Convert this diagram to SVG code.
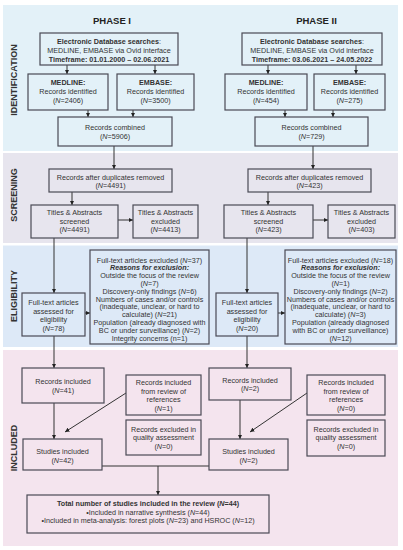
<svg xmlns="http://www.w3.org/2000/svg" width="403" height="550" viewBox="0 0 403 550">
<style>
.box{fill:none;stroke:#4a4a55;stroke-width:1.2}
.t{font-family:"Liberation Sans",Arial,sans-serif;font-size:7.2px;fill:#333;text-anchor:middle}
.b{font-weight:bold}
.i{font-style:italic}
.bi{font-weight:bold;font-style:italic}
.side{font-family:"Liberation Sans",Arial,sans-serif;font-size:9px;font-weight:bold;fill:#333;text-anchor:middle}
.ph{font-family:"Liberation Sans",Arial,sans-serif;font-size:9.5px;font-weight:bold;fill:#222;text-anchor:middle}
.c{fill:none;stroke:#333;stroke-width:1}
.ca{fill:none;stroke:#333;stroke-width:1;marker-end:url(#ah)}
</style>
<defs>
<marker id="ah" viewBox="0 0 6 6" refX="6" refY="3" markerWidth="4.5" markerHeight="4.5" orient="auto" markerUnits="userSpaceOnUse"><path d="M0,0 L6,3 L0,6 z" fill="#222"/></marker>
</defs>
<rect width="403" height="550" fill="#ffffff"/>
<g id="bands">
<rect x="3" y="5" width="395" height="146" fill="#e3f1f8"/>
<rect x="3" y="153" width="395" height="90" fill="#e7e5ee"/>
<rect x="3" y="245.5" width="395" height="101.5" fill="#dde9f7"/>
<rect x="3" y="350" width="395" height="196" fill="#f4e4ee"/>
</g>
<g id="labels">
<text class="side" transform="translate(14,80) rotate(-90)" dy="0.35em">IDENTIFICATION</text>
<text class="side" transform="translate(14,195) rotate(-90)" dy="0.35em">SCREENING</text>
<text class="side" transform="translate(14,296) rotate(-90)" dy="0.35em">ELIGIBILITY</text>
<text class="side" transform="translate(14,448) rotate(-90)" dy="0.35em">INCLUDED</text>
<text class="ph" x="112" y="24">PHASE I</text>
<text class="ph" x="316.5" y="24">PHASE II</text>
</g>
<g id="connectors">
<path class="ca" d="M67,65 V74"/>
<path class="ca" d="M155,65 V74"/>
<path class="ca" d="M88,110 V117"/>
<path class="ca" d="M133,110 V117"/>
<path class="ca" d="M268,65 V74"/>
<path class="ca" d="M356,65 V74"/>
<path class="ca" d="M285,110 V117"/>
<path class="ca" d="M333,110 V117"/>
<path class="ca" d="M114,146 V169"/>
<path class="ca" d="M72,192 V205"/>
<path class="ca" d="M118,220 H133"/>
<path class="ca" d="M54,238 V293"/>
<path class="ca" d="M313,146 V169"/>
<path class="ca" d="M268,192 V205"/>
<path class="ca" d="M313,220 H328"/>
<path class="ca" d="M247,238 V293"/>
<path class="ca" d="M85,313 H90"/>
<path class="ca" d="M278,313 H285"/>
<path class="ca" d="M54,336 V368"/>
<path class="ca" d="M247,336 V368"/>
<path class="ca" d="M54,403 V439"/>
<path class="ca" d="M240,400 V439"/>
<path class="ca" d="M126,393 L65,432"/>
<path class="ca" d="M307,393 L250,432"/>
<path class="c" d="M102,466 H209"/>
<path class="ca" d="M158,466 V495"/>
</g>
<g id="db1"><rect class="box" x="40" y="33" width="138" height="32"/>
<text class="t" x="109" y="43.5"><tspan class="b">Electronic Database searches</tspan>:</text>
<text class="t" x="109" y="52.5">MEDLINE, EMBASE via Ovid interface</text>
<text class="t b" x="109" y="61.5">Timeframe: 01.01.2000 – 02.06.2021</text></g>
<g id="medline1"><rect class="box" x="28" y="74" width="80" height="36"/>
<text class="t b" x="68" y="85">MEDLINE:</text>
<text class="t" x="68" y="93.8">Records identified</text>
<text class="t" x="68" y="102.5">(<tspan class="i">N</tspan>=2406)</text></g>
<g id="embase1"><rect class="box" x="117" y="74" width="77" height="36"/>
<text class="t b" x="155.5" y="85">EMBASE:</text>
<text class="t" x="155.5" y="93.8">Records identified</text>
<text class="t" x="155.5" y="102.5">(<tspan class="i">N</tspan>=3500)</text></g>
<g id="combined1"><rect class="box" x="58" y="117" width="114" height="29"/>
<text class="t" x="115" y="130">Records combined</text>
<text class="t" x="115" y="139">(<tspan class="i">N</tspan>=5906)</text></g>
<g id="db2"><rect class="box" x="242" y="33" width="140" height="32"/>
<text class="t" x="312" y="43.5"><tspan class="b">Electronic Database searches</tspan>:</text>
<text class="t" x="312" y="52.5">MEDLINE, EMBASE via Ovid interface</text>
<text class="t b" x="312" y="61.5">Timeframe: 03.06.2021 – 24.05.2022</text></g>
<g id="medline2"><rect class="box" x="225" y="74" width="82" height="36"/>
<text class="t b" x="266" y="85">MEDLINE:</text>
<text class="t" x="266" y="93.8">Records identified</text>
<text class="t" x="266" y="102.5">(<tspan class="i">N</tspan>=454)</text></g>
<g id="embase2"><rect class="box" x="314" y="74" width="71" height="36"/>
<text class="t b" x="349.5" y="85">EMBASE:</text>
<text class="t" x="349.5" y="93.8">Records identified</text>
<text class="t" x="349.5" y="102.5">(<tspan class="i">N</tspan>=275)</text></g>
<g id="combined2"><rect class="box" x="255" y="117" width="113" height="29"/>
<text class="t" x="311.5" y="130">Records combined</text>
<text class="t" x="311.5" y="139">(<tspan class="i">N</tspan>=729)</text></g>
<g id="dup1"><rect class="box" x="49" y="169" width="123" height="23"/>
<text class="t" x="110.5" y="179.5">Records after duplicates removed</text>
<text class="t" x="110.5" y="188">(<tspan class="i">N</tspan>=4491)</text></g>
<g id="screened1"><rect class="box" x="31" y="205" width="87" height="33"/>
<text class="t" x="74.5" y="215">Titles &amp; Abstracts</text>
<text class="t" x="74.5" y="223.5">screened</text>
<text class="t" x="74.5" y="232">(<tspan class="i">N</tspan>=4491)</text></g>
<g id="tiexcl1"><rect class="box" x="133" y="205" width="65" height="33"/>
<text class="t" x="165.5" y="215">Titles &amp; Abstracts</text>
<text class="t" x="165.5" y="223.5">excluded</text>
<text class="t" x="165.5" y="232">(<tspan class="i">N</tspan>=4413)</text></g>
<g id="dup2"><rect class="box" x="248" y="169" width="123" height="23"/>
<text class="t" x="309.5" y="179.5">Records after duplicates removed</text>
<text class="t" x="309.5" y="188">(<tspan class="i">N</tspan>=423)</text></g>
<g id="screened2"><rect class="box" x="224" y="205" width="89" height="33"/>
<text class="t" x="268.5" y="215">Titles &amp; Abstracts</text>
<text class="t" x="268.5" y="223.5">screened</text>
<text class="t" x="268.5" y="232">(<tspan class="i">N</tspan>=423)</text></g>
<g id="tiexcl2"><rect class="box" x="328" y="205" width="67" height="33"/>
<text class="t" x="361.5" y="215">Titles &amp; Abstracts</text>
<text class="t" x="361.5" y="223.5">excluded</text>
<text class="t" x="361.5" y="232">(<tspan class="i">N</tspan>=403)</text></g>
<g id="fulltext1"><rect class="box" x="22" y="293" width="63" height="43"/>
<text class="t" x="53.5" y="305">Full-text articles</text>
<text class="t" x="53.5" y="313.5">assessed for</text>
<text class="t" x="53.5" y="322">eligibility</text>
<text class="t" x="53.5" y="330.5">(<tspan class="i">N</tspan>=78)</text></g>
<g id="ftexcl1"><rect class="box" x="90" y="250" width="119" height="94"/>
<text class="t" x="149.5" y="262.5">Full-text articles excluded (<tspan class="i">N</tspan>=37)</text>
<text class="t bi" x="149.5" y="270.3">Reasons for exclusion:</text>
<text class="t" x="149.5" y="278.1">Outside the focus of the review</text>
<text class="t" x="149.5" y="285.9">(<tspan class="i">N</tspan>=7)</text>
<text class="t" x="149.5" y="293.7">Discovery-only findings (<tspan class="i">N</tspan>=6)</text>
<text class="t" x="149.5" y="301.5">Numbers of cases and/or controls</text>
<text class="t" x="149.5" y="309.3">(inadequate, unclear, or hard to</text>
<text class="t" x="149.5" y="317.1">calculate) (<tspan class="i">N</tspan>=21)</text>
<text class="t" x="149.5" y="324.9">Population (already diagnosed with</text>
<text class="t" x="149.5" y="332.7">BC or under surveillance) (<tspan class="i">N</tspan>=2)</text>
<text class="t" x="149.5" y="340.5">Integrity concerns (n=1)</text></g>
<g id="fulltext2"><rect class="box" x="216" y="293" width="62" height="43"/>
<text class="t" x="247" y="305">Full-text articles</text>
<text class="t" x="247" y="313.5">assessed for</text>
<text class="t" x="247" y="322">eligibility</text>
<text class="t" x="247" y="330.5">(<tspan class="i">N</tspan>=20)</text></g>
<g id="ftexcl2"><rect class="box" x="285" y="250" width="111" height="94"/>
<text class="t" x="340.5" y="262.5">Full-text articles excluded (<tspan class="i">N</tspan>=18)</text>
<text class="t bi" x="340.5" y="270.3">Reasons for exclusion:</text>
<text class="t" x="340.5" y="278.1">Outside the focus of the review</text>
<text class="t" x="340.5" y="285.9">(<tspan class="i">N</tspan>=1)</text>
<text class="t" x="340.5" y="293.7">Discovery-only findings (<tspan class="i">N</tspan>=2)</text>
<text class="t" x="340.5" y="301.5">Numbers of cases and/or controls</text>
<text class="t" x="340.5" y="309.3">(inadequate, unclear, or hard to</text>
<text class="t" x="340.5" y="317.1">calculate) (<tspan class="i">N</tspan>=3)</text>
<text class="t" x="340.5" y="324.9">Population (already diagnosed</text>
<text class="t" x="340.5" y="332.7">with BC or under surveillance)</text>
<text class="t" x="340.5" y="340.5">(<tspan class="i">N</tspan>=12)</text></g>
<g id="incl1"><rect class="box" x="22" y="368" width="82" height="35"/>
<text class="t" x="63" y="384">Records included</text>
<text class="t" x="63" y="392.5">(<tspan class="i">N</tspan>=41)</text></g>
<g id="review1"><rect class="box" x="126" y="375" width="75" height="40"/>
<text class="t" x="163.5" y="385">Records included</text>
<text class="t" x="163.5" y="393.5">from review of</text>
<text class="t" x="163.5" y="402">references</text>
<text class="t" x="163.5" y="410.5">(<tspan class="i">N</tspan>=1)</text></g>
<g id="qa1"><rect class="box" x="126" y="420" width="75" height="35"/>
<text class="t" x="163.5" y="431.5">Records excluded in</text>
<text class="t" x="163.5" y="440">quality assessment</text>
<text class="t" x="163.5" y="448.5">(<tspan class="i">N</tspan>=0)</text></g>
<g id="studies1"><rect class="box" x="23" y="439" width="79" height="31"/>
<text class="t" x="62.5" y="454">Studies included</text>
<text class="t" x="62.5" y="462.5">(<tspan class="i">N</tspan>=42)</text></g>
<g id="incl2"><rect class="box" x="209" y="368" width="82" height="32"/>
<text class="t" x="250" y="382.5">Records included</text>
<text class="t" x="250" y="391">(<tspan class="i">N</tspan>=2)</text></g>
<g id="review2"><rect class="box" x="307" y="375" width="78" height="40"/>
<text class="t" x="346" y="385">Records included</text>
<text class="t" x="346" y="393.5">from review of</text>
<text class="t" x="346" y="402">references</text>
<text class="t" x="346" y="410.5">(<tspan class="i">N</tspan>=0)</text></g>
<g id="qa2"><rect class="box" x="307" y="420" width="78" height="36"/>
<text class="t" x="346" y="431.5">Records excluded in</text>
<text class="t" x="346" y="440">quality assessment</text>
<text class="t" x="346" y="448.5">(<tspan class="i">N</tspan>=0)</text></g>
<g id="studies2"><rect class="box" x="209" y="439" width="79" height="31"/>
<text class="t" x="248.5" y="454">Studies included</text>
<text class="t" x="248.5" y="462.5">(<tspan class="i">N</tspan>=2)</text></g>
<g id="total"><rect class="box" x="27" y="495" width="242" height="38"/>
<text class="t b" x="148" y="506">Total number of studies included in the review (<tspan class="i">N</tspan>=44)</text>
<text class="t" x="148" y="514.5">•Included in narrative synthesis (<tspan class="i">N</tspan>=44)</text>
<text class="t" x="148" y="523">•Included in meta-analysis: forest plots (<tspan class="i">N</tspan>=23) and HSROC (<tspan class="i">N</tspan>=12)</text></g>
</svg>
